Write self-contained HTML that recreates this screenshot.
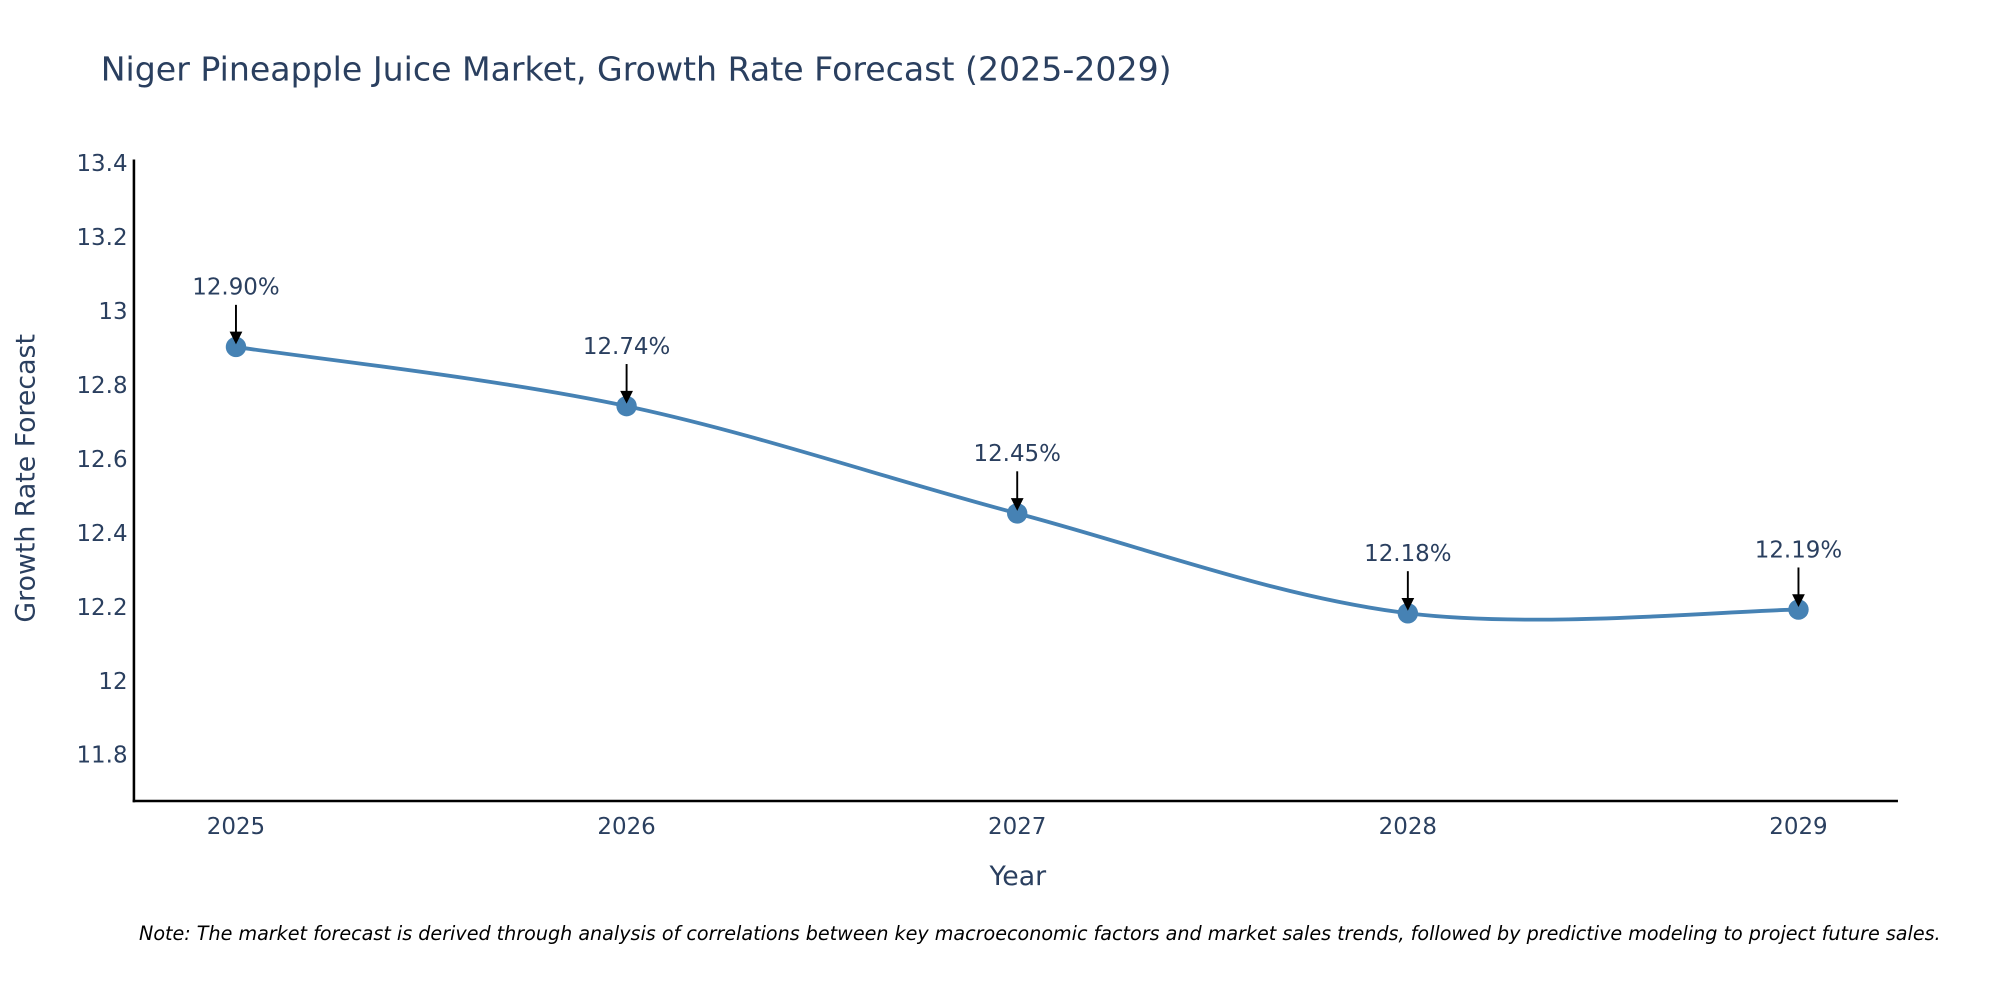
<!DOCTYPE html>
<html><head><meta charset="utf-8"><style>
html,body{margin:0;padding:0;background:#fff;}
svg{display:block;font-family:"DejaVu Sans","Liberation Sans",sans-serif;}
</style></head><body>
<svg id="chart" width="2000" height="1000" viewBox="0 0 1568 784" preserveAspectRatio="none" xmlns="http://www.w3.org/2000/svg">
<rect width="1568" height="784" fill="#fff"/>
<text x="79" y="63" font-size="26" fill="#2a3f5f">Niger Pineapple Juice Market, Growth Rate Forecast (2025-2029)</text>
<g id="yticks"></g><g id="xticks"></g>
<line x1="105" y1="125" x2="105" y2="629" stroke="#000" stroke-width="2"/>
<line x1="104" y1="628" x2="1488" y2="628" stroke="#000" stroke-width="2"/>
<text x="798" y="694" font-size="21" fill="#2a3f5f" text-anchor="middle">Year</text>
<text transform="translate(27,375) rotate(-90)" font-size="21" fill="#2a3f5f" text-anchor="middle">Growth Rate Forecast</text>
<g id="series"></g>
<text x="109" y="737" font-size="15" font-style="italic" fill="#000">Note: The market forecast is derived through analysis of correlations between key macroeconomic factors and market sales trends, followed by predictive modeling to project future sales.</text>
</svg>
<script>
const years = [2025, 2026, 2027, 2028, 2029];
const values = [12.90, 12.74, 12.45, 12.18, 12.19];
const labels = ["12.90%", "12.74%", "12.45%", "12.18%", "12.19%"];
const yTicks = [11.8, 12, 12.2, 12.4, 12.6, 12.8, 13, 13.2, 13.4];
const yTickLabels = ["11.8", "12", "12.2", "12.4", "12.6", "12.8", "13", "13.2", "13.4"];

const NS = "http://www.w3.org/2000/svg";
const xScale = y => 185 + (y - 2025) * 306.25;
const yScale = v => 243 + (13 - v) * 290;
function mk(tag, attrs, parent, text) {
  const e = document.createElementNS(NS, tag);
  for (const k in attrs) e.setAttribute(k, attrs[k]);
  if (text !== undefined) e.textContent = text;
  parent.appendChild(e);
  return e;
}
const yt = document.getElementById('yticks');
yTicks.forEach((t, i) => {
  const e = mk('text', {x: 100, y: yScale(t) + 7, 'font-size': 18, fill: '#2a3f5f', 'text-anchor': 'end'}, yt, yTickLabels[i]);
  
  
});
const xt = document.getElementById('xticks');
years.forEach(y => {
  const e = mk('text', {x: xScale(y), y: 654, 'font-size': 18, fill: '#2a3f5f', 'text-anchor': 'middle'}, xt, String(y));
  
  
});
const s = document.getElementById('series');
const pts = years.map((y, i) => [xScale(y), yScale(values[i])]);
let d = 'M' + pts[0][0] + ',' + pts[0][1];
const tension = 1.0;
for (let i = 0; i < pts.length - 1; i++) {
  const p0 = pts[Math.max(0, i - 1)], p1 = pts[i], p2 = pts[i + 1], p3 = pts[Math.min(pts.length - 1, i + 2)];
  const c1 = [p1[0] + (p2[0] - p0[0]) / 6 * tension, p1[1] + (p2[1] - p0[1]) / 6 * tension];
  const c2 = [p2[0] - (p3[0] - p1[0]) / 6 * tension, p2[1] - (p3[1] - p1[1]) / 6 * tension];
  d += ' C' + c1[0] + ',' + c1[1] + ' ' + c2[0] + ',' + c2[1] + ' ' + p2[0] + ',' + p2[1];
}
const line = mk('path', {d: d, fill: 'none', stroke: '#4682b4', 'stroke-width': 3}, s);


pts.forEach((p, i) => {
  const c = mk('circle', {cx: p[0], cy: p[1], r: 8, fill: '#4682b4'}, s);
  
  
  const a = mk('line', {x1: p[0], y1: p[1] - 33, x2: p[0], y2: p[1] - 10, stroke: '#000', 'stroke-width': 1.5}, s);
  
  
  const h = mk('polygon', {points: (p[0] - 5) + ',' + (p[1] - 12) + ' ' + (p[0] + 5) + ',' + (p[1] - 12) + ' ' + p[0] + ',' + (p[1] - 2)}, s);
  h.setAttribute('fill', '#000');
  
  
  const t = mk('text', {x: p[0], y: p[1] - 41, 'font-size': 18, fill: '#2a3f5f', 'text-anchor': 'middle'}, s, labels[i]);
  
  
});
</script>
</body></html>
